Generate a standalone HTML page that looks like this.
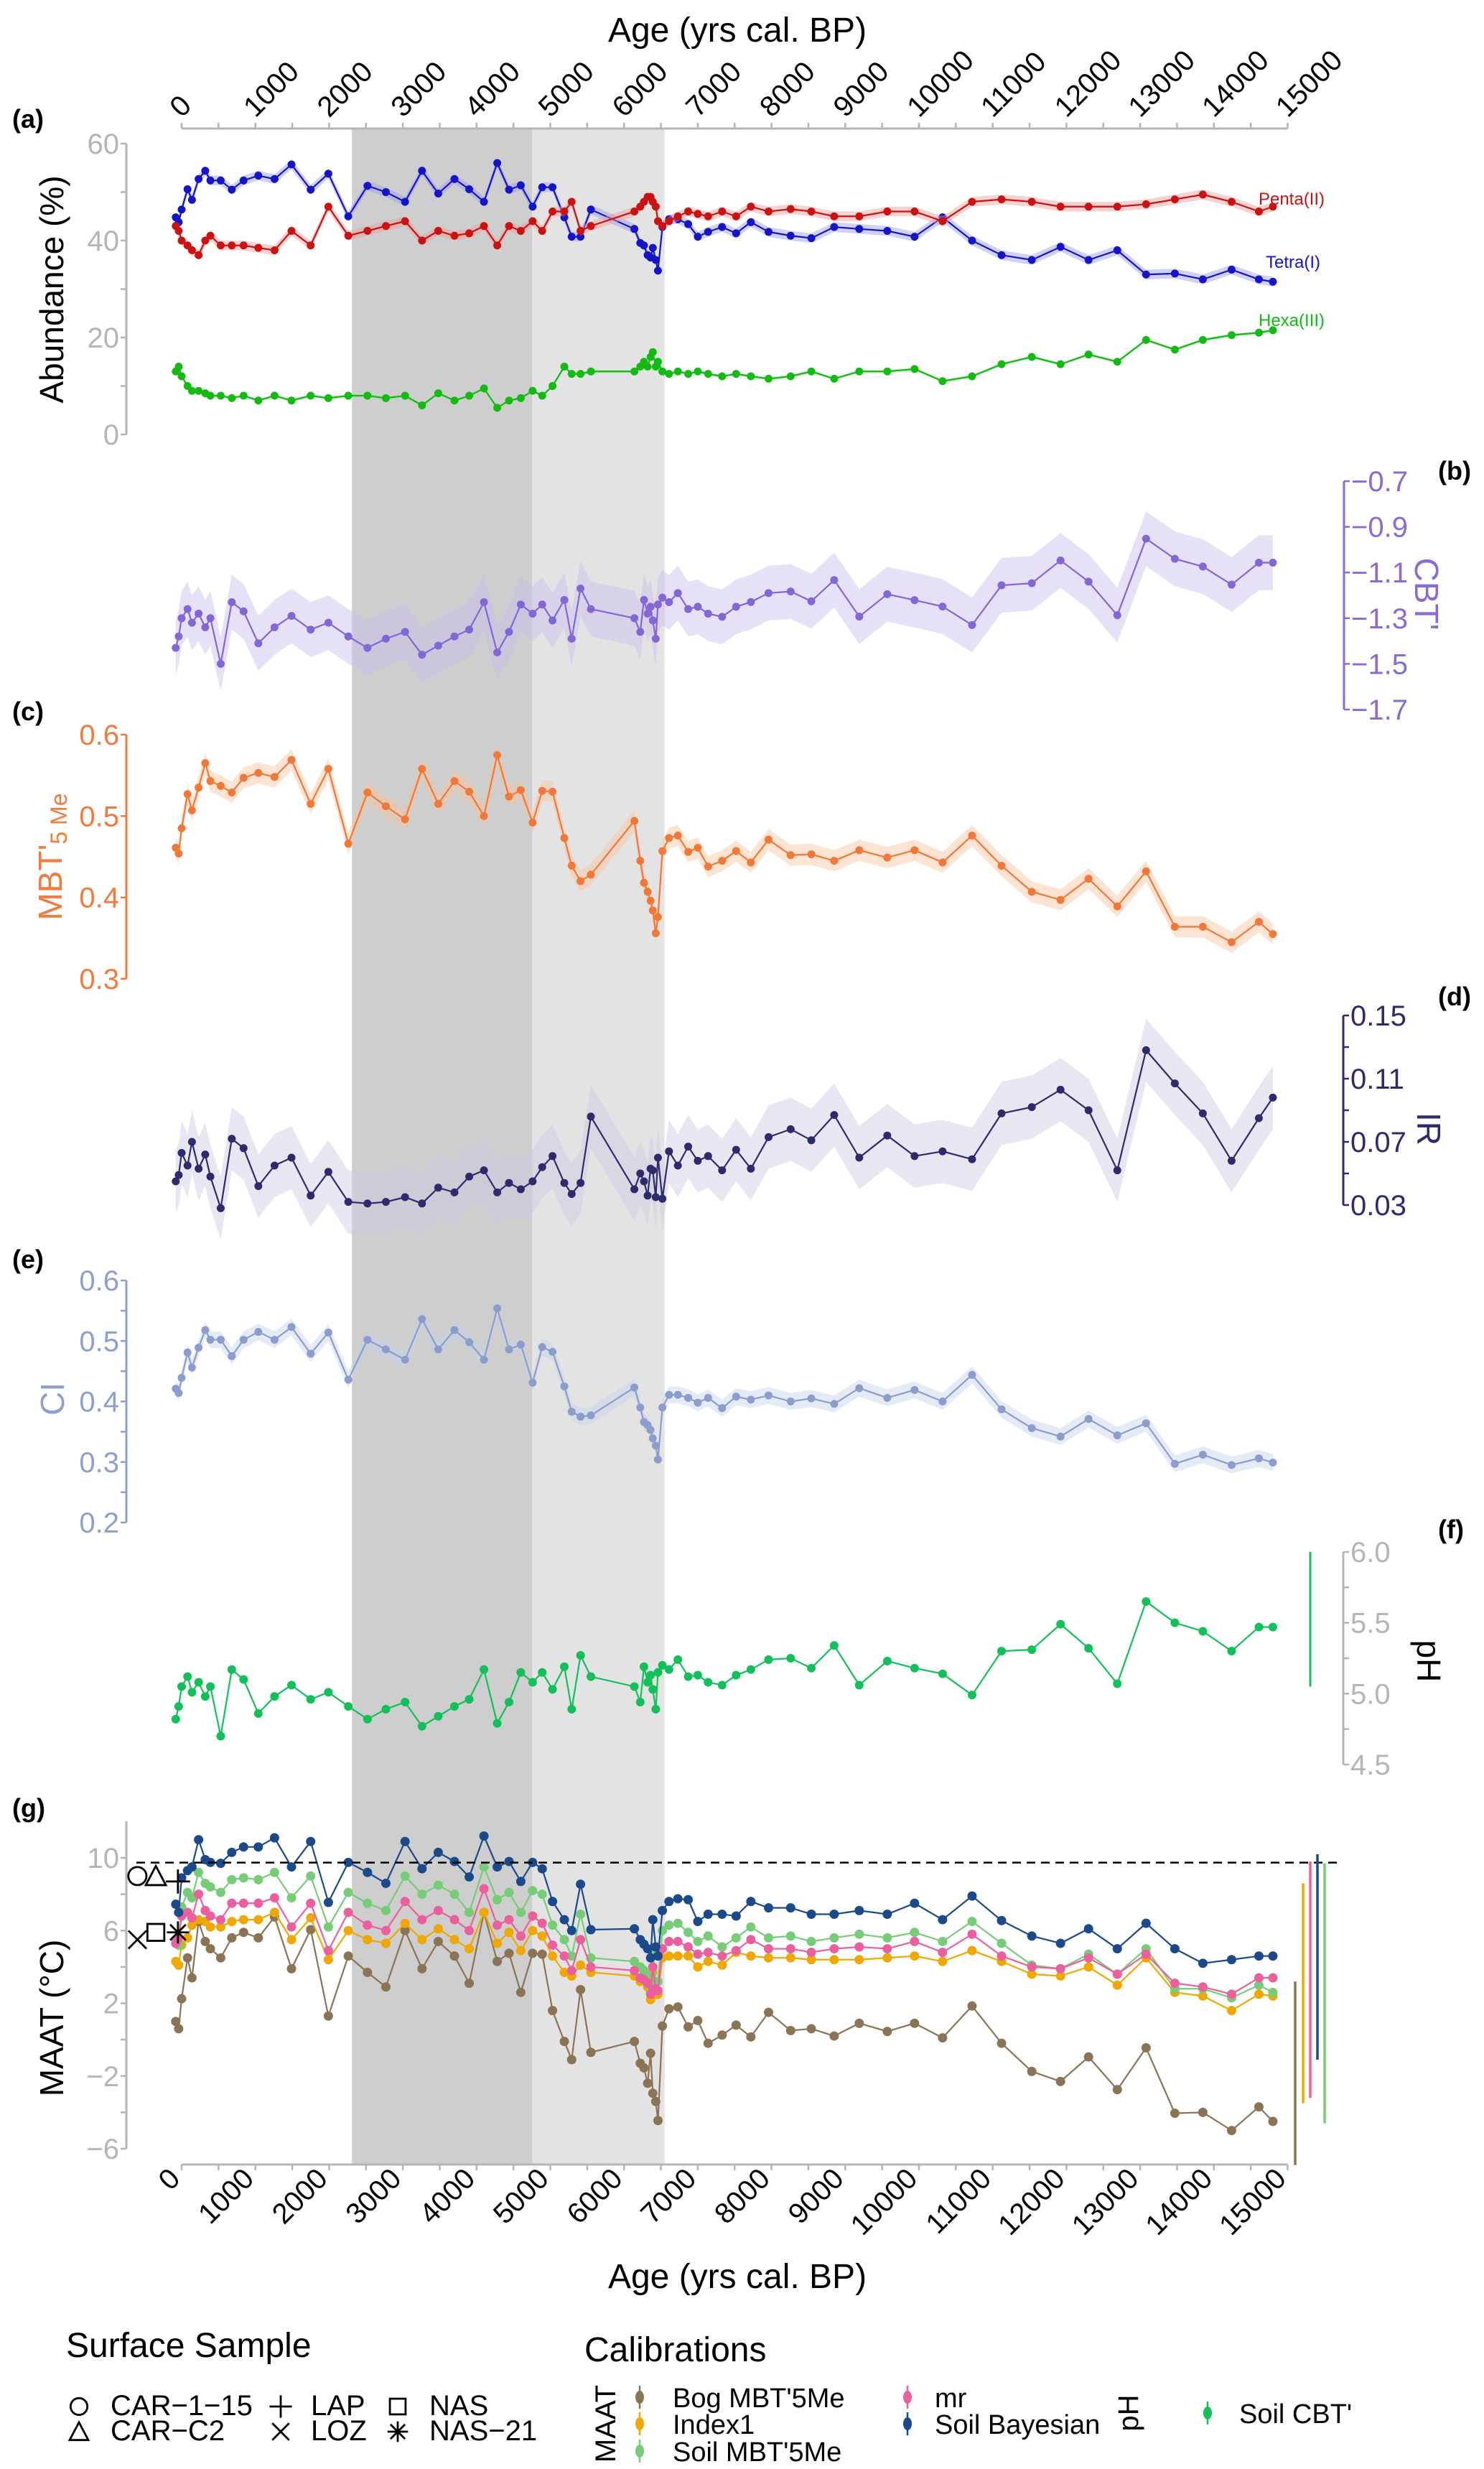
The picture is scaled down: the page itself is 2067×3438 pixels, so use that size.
<!DOCTYPE html>
<html><head><meta charset="utf-8"><style>
html,body{margin:0;padding:0;background:#fff;}
svg{display:block;font-family:"Liberation Sans",Arial,sans-serif;}
</style></head><body>
<svg id="chart" width="2067" height="3438" viewBox="0 0 2067 3438" xmlns="http://www.w3.org/2000/svg">
<g id="bands"></g>
<g id="axes"></g>
<g id="marks"></g>
<g id="labels"></g>
</svg>
<script>
const ages=[-80,-40,0,80,140,230,320,390,530,680,
840,1040,1260,1490,1750,1990,2260,2520,2770,3030,
3260,3480,3700,3900,4100,4280,4440,4600,4760,4890,
5030,5190,5290,5410,5550,6140,6220,6270,6320,6360,
6390,6430,6460,6520,6610,6730,6870,7000,7140,7330,
7520,7720,7960,8260,8540,8850,9190,9570,9940,10320,
10720,11120,11530,11920,12300,12690,13080,13470,13850,14240,
14610,14800];
const tetra=[44.8,43.8,46.4,50.6,48.4,52.7,54.4,52.4,52.4,50.5,52.4,53.4,52.7,55.7,50.5,53.8,45,51.3,50,48,54.4,49.7,52.7,50.6,48,56,50.5,51.4,47,51,51,44.8,40.8,40.8,46.4,42.4,39.5,39,37,36.5,38.5,36,33.8,42.8,44.4,44.4,43.4,40.8,41.8,42.8,41.5,43.8,41.8,41,40.5,42.8,42.4,42,40.8,44.8,40,37,36,38.7,36,38,33,33.2,32,34,32,31.5];
const penta=[43,42,40,39,38,37,40,41,39,39,39,38.5,38,42,39,47,41,42,43,44,40,42,41,41.5,43,39,43,42,44,42,46,46,48,42,43,46,47,48,49,49,48,47,44,43,44,45,46,45.5,45,46,45,47,46,46.5,46,45,45,46,46,44,48,48.5,48,47,47,47,47.5,48.5,49.5,48,46,47];
const hexa=[13,14,12,10,9,9,8.5,8,8,7.5,8,7,8,7,8,7.5,8,8,7.5,8,6,8.5,7,8,9.5,5.5,7,7.5,9,8,10,14,12.5,12.5,13,13,14,15,14,16,17,14,15,13,12.5,13,12.5,13,12.5,12,12.5,12,11.5,12,13,11.5,13,13,13.5,11,12,14.5,16,14.5,16.5,15,19.5,17.5,19.5,20.5,21,21.5];
const cbt=[-1.43,-1.38,-1.3,-1.26,-1.32,-1.28,-1.34,-1.3,-1.5,-1.23,-1.27,-1.41,-1.34,-1.29,-1.35,-1.32,-1.38,-1.43,-1.39,-1.36,-1.46,-1.42,-1.38,-1.35,-1.23,-1.45,-1.36,-1.24,-1.28,-1.24,-1.31,-1.22,-1.39,-1.17,-1.26,-1.3,-1.36,-1.22,-1.28,-1.25,-1.31,-1.39,-1.24,-1.21,-1.23,-1.19,-1.26,-1.25,-1.28,-1.294,-1.25,-1.229,-1.19,-1.183,-1.226,-1.133,-1.293,-1.195,-1.221,-1.249,-1.33,-1.156,-1.147,-1.047,-1.14,-1.287,-0.952,-1.04,-1.074,-1.153,-1.057,-1.057];
const mbt=[.461,.454,.485,.527,.507,.535,.565,.543,.537,.529,.547,.553,.548,.569,.515,.558,.466,.529,.512,.496,.558,.515,.543,.530,.500,.575,.524,.532,.492,.531,.530,.473,.439,.420,.428,.494,.445,.418,.407,.396,.384,.356,.376,.457,.473,.476,.456,.461,.438,.445,.457,.443,.471,.452,.453,.445,.458,.449,.458,.443,.476,.439,.407,.397,.423,.389,.432,.364,.364,.345,.370,.355];
const ir=[.045,.049,.063,.055,.070,.053,.062,.048,.028,.072,.066,.042,.055,.060,.036,.051,.032,.031,.032,.035,.031,.041,.038,.048,.052,.038,.044,.040,.045,.054,.061,.044,.037,.044,.086,.040,.050,.045,.036,.053,.052,.035,.060,.034,.064,.055,.067,.058,.061,.052,.065,.053,.073,.078,.071,.087,.060,.074,.061,.064,.059,.088,.092,.103,.090,.052,.128,.107,.088,.058,.085,.098];
const ci=[.421,.414,.439,.481,.456,.489,.518,.502,.502,.475,.502,.515,.502,.523,.479,.514,.436,.502,.486,.469,.536,.486,.518,.498,.469,.554,.486,.494,.431,.490,.482,.425,.383,.375,.377,.423,.390,.366,.361,.353,.339,.327,.304,.390,.411,.411,.406,.398,.406,.389,.408,.403,.410,.400,.405,.396,.422,.406,.419,.400,.444,.387,.356,.342,.371,.344,.364,.297,.312,.295,.306,.299];
const ph=[4.82,4.91,5.05,5.12,5.01,5.08,4.98,5.05,4.70,5.17,5.10,4.86,4.98,5.06,4.96,5.01,4.91,4.82,4.89,4.94,4.77,4.84,4.91,4.96,5.17,4.79,4.94,5.15,5.08,5.15,5.03,5.19,4.89,5.27,5.12,5.05,4.94,5.19,5.08,5.13,5.03,4.89,5.15,5.2,5.17,5.24,5.12,5.13,5.08,5.06,5.13,5.17,5.24,5.25,5.18,5.34,5.06,5.23,5.18,5.14,4.99,5.3,5.31,5.49,5.32,5.07,5.65,5.5,5.44,5.30,5.47,5.47];
const maatBayes=[7.45,7.0,8.9,9.3,9.5,11.0,9.9,9.75,9.7,10.3,10.6,10.6,11.1,9.5,10.9,7.55,9.75,9.2,8.6,10.9,9.4,10.3,9.8,8.95,11.2,9.5,9.8,8.7,9.75,9.4,7.6,6.6,6.0,8.55,6.05,6.1,5.5,5.25,5.0,4.5,6.6,5.1,4.6,7.1,7.6,7.75,7.7,6.5,6.9,6.9,6.8,7.6,7.25,7.25,6.9,6.9,7.1,6.9,7.5,6.6,7.9,6.55,5.7,5.3,6.1,5.0,6.4,5.0,4.2,4.4,4.6,4.6];
const maatSoil=[5.5,5.2,7.3,8.1,7.8,9.2,8.6,8.4,8.1,8.8,8.9,8.8,9.2,7.8,9.0,6.2,8.1,7.5,7.1,9.0,8.0,8.5,8.0,7.0,9.5,7.7,8.1,7.0,8.2,8.0,6.3,5.5,4.6,6.9,4.5,4.3,4.0,3.8,3.5,2.6,4.8,3.1,3.2,6.0,6.3,6.4,5.9,5.4,5.7,5.1,5.6,6.2,5.6,5.7,5.4,5.6,5.8,5.6,5.9,5.4,6.5,5.3,4.1,3.9,4.7,3.6,5.0,2.8,2.8,2.3,3.0,2.6];
const maatMr=[5.3,5.6,6.8,7.0,6.7,8.0,7.1,6.8,6.6,7.5,7.5,7.5,7.8,6.2,7.5,4.9,7.0,6.3,6.0,7.6,6.6,7.1,6.6,6.0,8.3,6.3,6.6,5.7,6.8,6.4,5.2,4.6,3.8,5.5,4.0,3.8,3.4,3.3,3.1,2.5,4.0,2.8,2.7,5.0,5.4,5.4,5.1,4.7,4.8,4.6,4.9,5.5,5.0,5.0,4.8,5.0,5.1,5.0,5.4,4.8,5.8,4.6,4.0,3.9,4.5,3.6,4.7,3.1,2.9,2.5,3.4,3.4];
const maatIndex1=[4.3,4.1,5.2,5.6,6.3,6.6,6.5,6.2,6.2,6.5,6.6,6.6,7.0,5.5,6.7,4.4,6.0,5.5,5.3,6.4,5.5,6.1,5.5,5.0,7.0,5.3,5.9,4.9,6.0,5.7,4.6,3.7,3.5,4.1,3.7,3.5,3.2,3.3,2.9,2.2,3.7,2.5,2.5,4.5,4.6,4.6,4.6,4.0,4.3,4.1,4.8,4.6,4.5,4.5,4.4,4.4,4.4,4.5,4.6,4.3,4.9,4.3,3.6,3.5,4.0,3.0,4.5,2.6,2.4,1.6,2.5,2.4];
const maatBog=[1.0,0.6,2.25,4.5,3.4,6.5,5.4,5.0,4.5,5.6,5.9,5.6,6.75,3.9,6.05,1.3,4.6,3.7,2.9,6.0,3.9,5.4,4.6,3.1,7.0,4.3,4.75,2.6,4.75,4.7,1.6,-0.1,-1.1,2.75,-0.7,-0.1,-1.3,-1.55,-2.4,-0.75,-2.95,-3.4,-4.45,0.75,1.7,1.8,0.7,1.05,-0.2,0.25,0.8,0.15,1.5,0.5,0.6,0.2,0.9,0.45,0.9,0.1,1.85,-0.2,-1.75,-2.3,-0.95,-2.75,-0.45,-4.05,-4.0,-5.0,-3.7,-4.5];
const rangeNames=["Bog MBT'5Me","Index1","mr","Soil Bayesian","Soil MBT'5Me"];
const rangeHigh=[3.2,8.6,9.8,10.2,9.7];
const rangeLow=[-6.9,-3.5,-3.2,-1.1,-4.6];
const phRange=[6.0,5.05];
const surfNames=["CAR-1-15","CAR-C2","LAP","LOZ","NAS","NAS-21"];
const surfVals=[9.0,9.0,8.7,5.5,5.9,5.9];
const surfAges=[-600,-350,-50,-600,-350,-50];
const periodStarts=[2310,4755];
const periodEnds=[4755,6550];
const ageTicks=[0,1000,2000,3000,4000,5000,6000,7000,8000,9000,10000,11000,12000,13000,14000,15000];

const NS="http://www.w3.org/2000/svg";
const G={bands:document.getElementById('bands'),axes:document.getElementById('axes'),marks:document.getElementById('marks'),labels:document.getElementById('labels')};
function el(tag,attrs,parent){const e=document.createElementNS(NS,tag);for(const k in attrs)e.setAttribute(k,attrs[k]);parent.appendChild(e);return e;}
function xs(a){return 253+a*0.1027;}
function lin(v0,p0,v1,p1){return v=>p0+(v-v0)*(p1-p0)/(v1-v0);}
function txt(s,x,y,size,color,parent,anchor,extra){const t=el('text',Object.assign({x:x,y:y,'font-size':size,fill:color,'text-anchor':anchor||'start'},extra||{}),parent);t.textContent=s;return t;}
const BOTTOM=3014;

for(let i=0;i<periodStarts.length;i++){
  const r=el('rect',{x:xs(periodStarts[i]),y:179,width:xs(periodEnds[i])-xs(periodStarts[i]),height:BOTTOM-179,fill:i===0?'#cecece':'#e3e3e3'},G.bands);
  
  
}

function ageAxis(y,top){
  const g=el('g',{},G.axes);
  
  
  el('line',{x1:xs(0),x2:xs(15000),y1:y,y2:y,stroke:'#b5b5b5','stroke-width':3},g);
  for(let a=0;a<=15000;a+=500){el('line',{x1:xs(a),x2:xs(a),y1:y,y2:top?y-8:y+8,stroke:'#b5b5b5','stroke-width':2.5},g);}
  ageTicks.forEach(a=>{
    const x=xs(a);const ty=top?y-14:y+22;
    const t=txt(String(a),x,ty,40,'#000',g,top?'start':'end',{transform:`rotate(-45 ${x} ${ty})`});
    
    
  });
}
ageAxis(179,true);ageAxis(BOTTOM,false);
const tt=txt('Age (yrs cal. BP)',1027,58,48,'#000',G.labels,'middle');


const bt=txt('Age (yrs cal. BP)',1027,3186,48,'#000',G.labels,'middle');



function yAxis(name,ticks,yf,x,color,right,minor,labelFmt){
  const g=el('g',{},G.axes);
  
  
  const lo=yf(ticks[0]),hi=yf(ticks[ticks.length-1]);
  el('line',{x1:x,x2:x,y1:lo,y2:hi,stroke:color,'stroke-width':3},g);
  const all=ticks.slice();
  if(minor){for(let i=0;i<ticks.length-1;i++)all.push((ticks[i]+ticks[i+1])/2);}
  all.forEach(v=>{const yy=yf(v);el('line',{x1:x,x2:right?x+8:x-8,y1:yy,y2:yy,stroke:color,'stroke-width':2.5},g);});
  ticks.forEach(v=>{const t=txt(labelFmt(v),right?x+10:x-10,yf(v)+14,40,color,g,right?'start':'end');
    
    });
}
const yA=lin(0,605,60,200),yB=lin(-0.7,670,-1.7,988),yC=lin(0.6,1023,0.3,1363),yD=lin(0.15,1414,0.03,1678),yE=lin(0.6,1783,0.2,2120),yF=lin(6.0,2161,4.5,2457),yG=lin(10,2587,-6,2992);
const fmtMinus=v=>String(v).replace('-','\u2212');
yAxis('abundance-axis',[0,20,40,60],yA,176,'#b5b5b5',false,true,v=>String(v));
yAxis('cbt-axis',[-0.7,-0.9,-1.1,-1.3,-1.5,-1.7],yB,1872,'#8a6ad8',true,false,v=>'\u2212'+Math.abs(v).toFixed(1));
yAxis('mbt-axis',[0.3,0.4,0.5,0.6],yC,176,'#f47a3c',false,false,v=>v.toFixed(1));
yAxis('ir-axis',[0.03,0.07,0.11,0.15],yD,1871,'#2e2a6e',true,true,v=>v.toFixed(2));
yAxis('ci-axis',[0.2,0.3,0.4,0.5,0.6],yE,176,'#8d9fcf',false,true,v=>v.toFixed(1));
yAxis('ph-axis',[4.5,5.0,5.5,6.0],yF,1871,'#b5b5b5',true,true,v=>v.toFixed(1));
yAxis('maat-axis',[-6,-2,2,6,10],yG,176,'#b5b5b5',false,true,fmtMinus);
el('line',{x1:176,x2:176,y1:2536,y2:2587,stroke:'#b5b5b5','stroke-width':3},G.axes);

function series(name,vals,yf,color,err,bandColor,r,lw){
  const g=el('g',{},G.marks);
  
  
  const n=Math.min(vals.length,ages.length);
  if(err){
    let up=[],dn=[];
    for(let i=0;i<n;i++){up.push(xs(ages[i])+','+yf(vals[i]+err));dn.unshift(xs(ages[i])+','+yf(vals[i]-err));}
    const p=el('polygon',{points:up.concat(dn).join(' '),fill:bandColor,'fill-opacity':0.45},g);
    
    
  }
  let pts=[];for(let i=0;i<n;i++)pts.push(xs(ages[i])+','+yf(vals[i]));
  el('polyline',{points:pts.join(' '),fill:'none',stroke:color,'stroke-width':lw||2.2},g);
  for(let i=0;i<n;i++){
    const c=el('circle',{cx:xs(ages[i]),cy:yf(vals[i]),r:r||5.5,fill:color},g);
    
    
  }
}
series('tetra-series',tetra,yA,'#1414c8',1.0,'#9a9af0');
series('penta-series',penta,yA,'#cc1111',1.0,'#f09a9a');
series('hexa-series',hexa,yA,'#12bb12',0.3,'#9ae09a');
series('cbt-series',cbt,yB,'#8466d6',0.12,'#c8bcee');
series('mbt-series',mbt,yC,'#f27838',0.013,'#fbc09c');
series('ir-series',ir,yD,'#2e2a6e',0.02,'#c9c8e0');
series('ci-series',ci,yE,'#8a9dcc',0.014,'#c6d2ec');
series('ph-series',ph,yF,'#12c05a',0,null,6);
series('maat-bog',maatBog,yG,'#8b7355',0,null,6.5);
series('maat-index1',maatIndex1,yG,'#f0a800',0,null,6.5);
series('maat-soil-mbt',maatSoil,yG,'#77cc77',0,null,6.5);
series('maat-mr',maatMr,yG,'#ec5f9e',0,null,6.5);
series('maat-bayesian',maatBayes,yG,'#1b4a8a',0,null,6.5);

const dl=el('line',{x1:190,x2:1868,y1:yG(9.74),y2:yG(9.74),stroke:'#000','stroke-width':2.5,'stroke-dasharray':'12,8'},G.marks);



const rangeColors=['#8b7355','#f0a800','#ec5f9e','#1b4a8a','#77cc77'];
const rangeX=[1804,1815,1825,1835,1845];
for(let i=0;i<rangeNames.length;i++){
  const l=el('line',{x1:rangeX[i],x2:rangeX[i],y1:yG(rangeHigh[i]),y2:yG(rangeLow[i]),stroke:rangeColors[i],'stroke-width':3.5},G.marks);
  
  
}
const pl=el('line',{x1:1825,x2:1825,y1:yF(phRange[0]),y2:yF(phRange[1]),stroke:'#12c05a','stroke-width':3},G.marks);



function sym(kind,x,y,s,parent){
  const g=el('g',{fill:'none',stroke:'#000','stroke-width':2.8},parent);
  if(kind===0)el('circle',{cx:x,cy:y,r:s*0.45},g);
  if(kind===1)el('polygon',{points:`${x},${y-s*0.5} ${x-s*0.5},${y+s*0.45} ${x+s*0.5},${y+s*0.45}`},g);
  if(kind===2){el('line',{x1:x-s*0.6,x2:x+s*0.6,y1:y,y2:y},g);el('line',{x1:x,x2:x,y1:y-s*0.6,y2:y+s*0.6},g);}
  if(kind===3){el('line',{x1:x-s*0.45,x2:x+s*0.45,y1:y-s*0.45,y2:y+s*0.45},g);el('line',{x1:x-s*0.45,x2:x+s*0.45,y1:y+s*0.45,y2:y-s*0.45},g);}
  if(kind===4)el('rect',{x:x-s*0.42,y:y-s*0.42,width:s*0.84,height:s*0.84},g);
  if(kind===5){for(let k=0;k<4;k++){const a=k*Math.PI/4;el('line',{x1:x-Math.cos(a)*s*0.55,x2:x+Math.cos(a)*s*0.55,y1:y-Math.sin(a)*s*0.55,y2:y+Math.sin(a)*s*0.55},g);}}
  return g;
}
for(let i=0;i<surfNames.length;i++){
  const s=sym(i,xs(surfAges[i]),yG(surfVals[i]),28,G.marks);
  
  
}

const panelLab=[['(a)',17,178],['(b)',2003,668],['(c)',17,1003],['(d)',2003,1400],['(e)',17,1766],['(f)',2003,2142],['(g)',17,2530]];
panelLab.forEach(p=>{const t=txt(p[0],p[1],p[2],36,'#000',G.labels,'start',{'font-weight':'bold'});
  
  });
function vtitle(s,x,y,color,rot,name){
  const t=txt(s,x,y,46,color,G.labels,'middle',{transform:`rotate(${rot} ${x} ${y})`,'dominant-baseline':'central'});
  
  
  return t;
}
vtitle('Abundance (%)',72,403,'#000',-90,'abundance-title');
const mt=vtitle('',70,1193,'#f47a3c',-90,'mbt-title');
const ts1=document.createElementNS(NS,'tspan');ts1.textContent="MBT'";mt.appendChild(ts1);
const ts2=document.createElementNS(NS,'tspan');ts2.textContent='5 Me';ts2.setAttribute('font-size','32');ts2.setAttribute('dy','12');mt.appendChild(ts2);
vtitle('CI',73,1948,'#8d9fcf',-90,'ci-title');
vtitle('MAAT (°C)',72,2810,'#000',-90,'maat-title');
vtitle("CBT'",1987,827,'#8a6ad8',90,'cbt-title');
vtitle('IR',1990,1572,'#2e2a6e',90,'ir-title');
vtitle('pH',1990,2313,'#000',90,'ph-title');
[['Penta(II)',1799,285,'#cc1111'],['Tetra(I)',1801,373,'#1414c8'],['Hexa(III)',1799,454,'#12bb12']].forEach(s=>{
  const t=txt(s[0],s[1],s[2],24,s[3],G.labels,'middle');
  
  });

const lg=el('g',{},G.labels);


const st=txt('Surface Sample',92,3282,48,'#000',lg);


const legPos=[[110,3363,154],[110,3398,154],[391,3363,433],[391,3398,433],[554,3363,598],[554,3398,598]];
for(let i=0;i<surfNames.length;i++){
  const p=legPos[i];
  const s=sym(i,p[0],p[1]-12,26,lg);
  
  
  const t=txt(surfNames[i].replace(/-/g,'\u2212'),p[2],p[1],40,'#000',lg);
  
  
}
const ct=txt('Calibrations',814,3288,48,'#000',lg);


vtitle('MAAT',844,3375,'#000',-90,'maat-legend-label').setAttribute('font-size','40');
vtitle('pH',1572,3360,'#000',-90,'ph-legend-label').setAttribute('font-size','40');
const calEntries=[["Bog MBT'5Me",891,937,3338,'#8b7355'],['Index1',891,937,3375,'#f0a800'],["Soil MBT'5Me",891,937,3413,'#77cc77'],['mr',1264,1302,3338,'#ec5f9e'],['Soil Bayesian',1264,1302,3375,'#1b4a8a'],["Soil CBT'",1682,1726,3360,'#12c05a']];
calEntries.forEach(c=>{
  el('line',{x1:c[1],x2:c[1],y1:c[3]-16,y2:c[3]+16,stroke:c[4],'stroke-width':2.5},lg);
  const d=el('ellipse',{cx:c[1],cy:c[3],rx:6,ry:9,fill:c[4]},lg);
  
  
  const t=txt(c[0],c[2],c[3]+14,38,'#000',lg,'start');
  
  
});
</script>
</body></html>
